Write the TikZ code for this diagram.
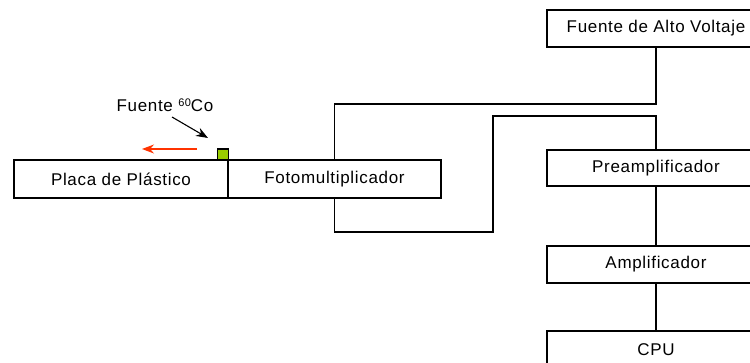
\documentclass[tikz,border=0pt]{standalone}
\usepackage{fontspec}
\setmainfont[LetterSpace=4]{Liberation Sans}
\usetikzlibrary{arrows.meta}
\begin{document}
\begin{tikzpicture}[x=1pt,y=-1pt,
  blk/.style={draw=black,line width=1.1pt,fill=white,rectangle,inner sep=0pt,
    minimum width=#1,minimum height=37pt,font=\fontsize{17}{20}\selectfont},
  blk/.default=218pt,
  wire/.style={draw=black,line width=1.1pt},
  ptr/.style={line width=1.1pt,-{Stealth[length=12pt,width=9pt]}},
  lbl/.style={font=\fontsize{17}{20}\selectfont,inner sep=0pt}]
\useasboundingbox (0,0) rectangle (750,363);
\clip (0,0) rectangle (750,363);
\fill[white] (0,0) rectangle (750,363);
\node[blk=214pt,minimum height=38pt] (placa) at (121,179) {Placa de Plástico};
\node[blk=213pt,minimum height=38pt] (foto) at (334.5,179) {Fotomultiplicador};
\node[blk] (fuente) at (656,28.5) {Fuente de Alto Voltaje};
\node[blk,minimum height=36pt] (pre) at (656,168) {Preamplificador};
\node[blk] (amp) at (656,264.5) {Amplificador};
\node[blk] (cpu) at (656,349.5) {CPU};
\coordinate (k1) at (493,116);
\draw[wire] (foto.north) -- (foto.north |- 0,104) -| (fuente.south);
\draw[wire] (foto.south) -- (foto.south |- 0,232) -| (k1) -| (pre.north);
\draw[wire] (pre.south) -- (amp.north);
\draw[wire] (amp.south) -- (cpu.north);
% source
\node[draw=black,line width=1.1pt,fill={rgb,255:red,153;green,204;blue,0},minimum size=11pt,inner sep=0pt] (src) at (223,154.5) {};
\node[lbl] (srclbl) at (165,105) {Fuente {\fontsize{11}{12}\selectfont\raisebox{5pt}{60}}Co};
\coordinate (a1) at (172,117);
\coordinate (a2) at (208,138);
\draw[ptr] (a1) -- (a2);
\coordinate (r1) at (197,149);
\coordinate (r2) at (142,149);
\draw[ptr,color={rgb,255:red,255;green,51;blue,0}] (r1) -- (r2);
\end{tikzpicture}
\end{document}
